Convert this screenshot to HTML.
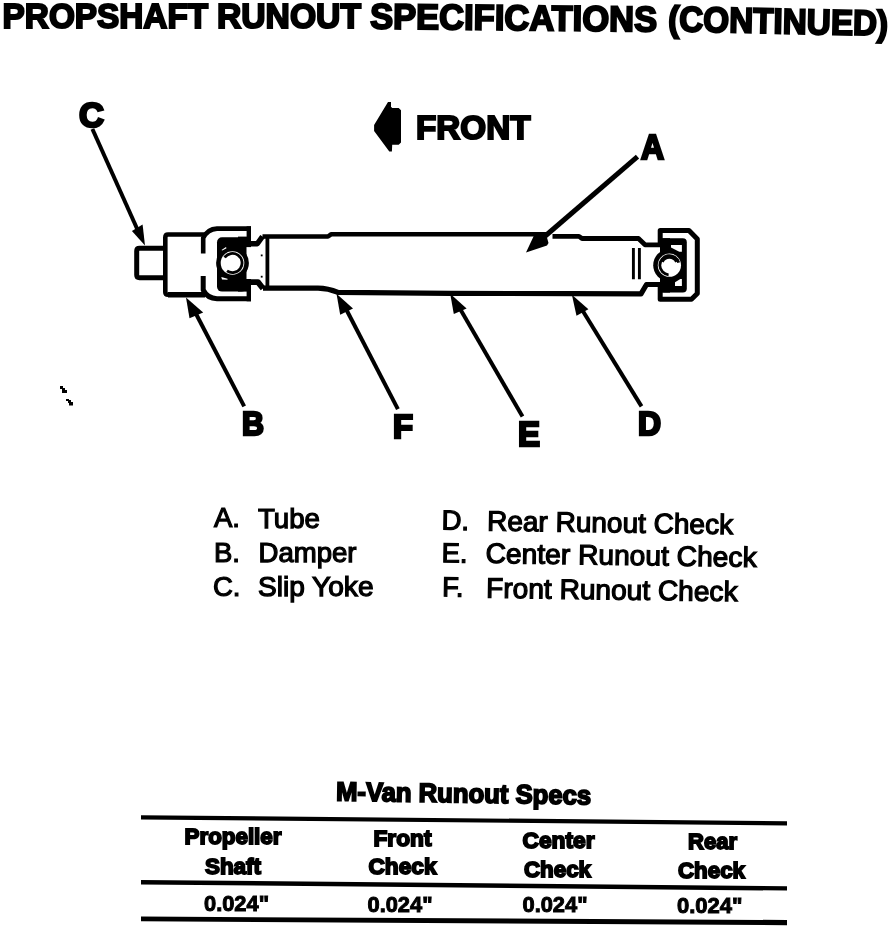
<!DOCTYPE html>
<html><head><meta charset="utf-8"><title>Propshaft Runout Specifications</title>
<style>
html,body{margin:0;padding:0;background:#fff;}
body{width:896px;height:928px;overflow:hidden;}
svg{display:block;filter:grayscale(1);}
text{font-family:"Liberation Sans",sans-serif;fill:#000;}
.t{font-weight:bold;stroke:#000;stroke-width:2.1px;}
.L{font-weight:bold;stroke:#000;stroke-width:2.6px;}
.lg{font-weight:normal;stroke:#000;stroke-width:1.25px;}
.lr{font-weight:normal;stroke:#000;stroke-width:1.2px;font-size:27.5px;}
.hd{font-weight:bold;stroke:#000;stroke-width:1.8px;}
</style></head>
<body>
<svg width="896" height="928" viewBox="0 0 896 928">
<!-- TITLE -->
<g class="t" font-size="35.6">
<text x="2.6" y="28.3" textLength="205.5" lengthAdjust="spacingAndGlyphs">PROPSHAFT</text>
<text x="217" y="28.4" textLength="144" lengthAdjust="spacingAndGlyphs">RUNOUT</text>
<text x="370" y="28.5" textLength="287" lengthAdjust="spacingAndGlyphs" transform="rotate(0.6 370 28.5)">SPECIFICATIONS</text>
<text x="668" y="31" font-size="35.5" textLength="220" lengthAdjust="spacingAndGlyphs" transform="rotate(1.2 668 31)">(CONTINUED)</text>
</g>

<!-- DIAGRAM -->
<g fill="none" stroke="#000" stroke-linejoin="round" stroke-linecap="butt">
  <!-- slip yoke stub -->
  <path d="M164,248.3 H139.5 Q136.7,248.3 136.7,251 V275 Q136.7,277.7 139.5,277.7 H164" stroke-width="5"/>
  <!-- yoke body -->
  <path d="M205,234.5 H168 Q165.3,234.5 165.3,237.5 V292 Q165.3,294.8 168,294.8 H205" stroke-width="4.6"/>
  <path d="M168,294.8 H205" stroke-width="5.6"/>
  <!-- fork outer C -->
  <path d="M251,228.6 H217 Q207.5,229 203.2,238 V253.5" stroke-width="4.6"/>
  <path d="M203.2,276 V290 Q207.5,298.5 217,298.7 H251" stroke-width="5"/>
  <path d="M248.8,226.3 V241.5" stroke-width="4.4"/>
  <path d="M248.8,287 V301.3" stroke-width="4.4"/>
  <!-- left neck -->
  <path d="M249,243.8 H257.3 L262.5,236.5" stroke-width="5.4"/>
  <path d="M240,282.1 H258 L263,288.5" stroke-width="5.8"/>
  <!-- tube -->
  <path d="M262.5,236.5 H328 L331,234.3 H546" stroke-width="4.6"/>
  <path d="M552.5,236.4 H579 L582,238.5 H638.5 L645,244.8 H660" stroke-width="4.8"/>
  <path d="M263,288.2 H318 Q328,288.4 338,292.4 L450,293.3 L570,293.7 L641,293.9 L646.5,284.5 H665" stroke-width="5.2"/>
  <path d="M267.4,236 V289.5" stroke-width="3.8"/>
  <!-- right frame (D shape) -->
  <path d="M660.2,243 V230.6 H689 L697.3,239 V293.5 L691.5,299.2 H660.2 V286" stroke-width="5"/>
  <!-- double bars right -->
  <path d="M633.4,248.1 V279.3 M639.4,248.1 V279.3" stroke-width="2.9"/>
</g>
<!-- left bearing cap -->
<g fill="#000">
  <rect x="217" y="237.3" width="29.5" height="54.3" rx="5"/>
  <rect x="238" y="236.6" width="13" height="10.5"/>
  <rect x="238" y="279" width="13" height="12.6"/>
  <circle cx="232.5" cy="263" r="16.4"/>
  <circle cx="232.5" cy="263" r="11.8" fill="#fff"/>
  <path d="M224.6,257.5 A9.6,9.6 0 1 1 227.0,270.9" fill="none" stroke="#000" stroke-width="2.8"/>
  <path d="M221.5,250 L226,247 L226.5,248.3 L222.3,250.6 Z" fill="#fff"/>
  <path d="M221.3,277 L227.5,278.7 L227.5,279.7 L222,279.4 Z" fill="#fff"/>
</g>
<!-- right bearing cap -->
<g fill="#000">
  <rect x="660" y="238.2" width="26.8" height="54.4" rx="4"/>
  <rect x="660" y="238.2" width="10" height="54.4"/>
  <circle cx="669.4" cy="265.2" r="16.2"/>
  <circle cx="669.4" cy="265.2" r="11.6" fill="#fff"/>
  <path d="M678.7,262.7 A9.6,9.6 0 1 0 668.6,274.8" fill="none" stroke="#000" stroke-width="2.8"/>
  <path d="M662.0,261.7 A8.2,8.2 0 0 1 676.8,261.7" fill="none" stroke="#000" stroke-width="3.5"/>
  <path d="M671,245 H681.9 V251.8 H679.3 L671,247.6 Z" fill="#fff"/>
  <path d="M675,282.2 L680.3,279 H681.9 V286.1 H675 Z" fill="#fff"/>
</g>
<!-- dots -->
<rect x="260.8" y="254.5" width="1.8" height="1.8" fill="#000"/>
<rect x="260.8" y="275.8" width="1.8" height="1.8" fill="#000"/>

<!-- leader lines + arrowheads -->
<g stroke="#000" stroke-width="4" stroke-linecap="butt" fill="none">
  <line x1="92.4" y1="129" x2="139" y2="233"/>
  <line x1="637.5" y1="156.6" x2="540" y2="240.5" stroke-width="5"/>
  <line x1="244.2" y1="406.4" x2="194" y2="310"/>
  <line x1="397.9" y1="409.2" x2="345" y2="307"/>
  <line x1="522.5" y1="416.5" x2="459" y2="307"/>
  <line x1="641.5" y1="406.4" x2="581" y2="308"/>
</g>
<g fill="#000">
  <polygon points="145,245.5 131.9,230.9 142.6,224.4"/>
  <polygon points="526,252.5 533.5,236.5 534,234 546,234 548.5,243 547,245.5"/>
  <polygon points="186,297.5 189.5,318.2 203.2,312.4"/>
  <polygon points="336.5,293.7 340.2,314.8 353,308.4"/>
  <polygon points="450.2,293.7 453.8,313.9 466.6,308.4"/>
  <polygon points="571.9,294.7 576.5,315.7 588.4,309.3"/>
</g>

<!-- FRONT arrow -->
<polygon points="388,102 391,102 391,106.7 392.2,108 398.7,108 401,110.3 401,142.6 398.7,144.8 392.2,144.8 391.9,151.6 389.3,151.6 374.1,131 374.1,125.1" fill="#000"/>
<text class="t" x="416" y="139.3" font-size="34" textLength="114.5" lengthAdjust="spacingAndGlyphs">FRONT</text>

<!-- letters -->
<g class="L" font-size="33">
<text x="79" y="127.3" font-size="35.5" textLength="25" lengthAdjust="spacingAndGlyphs">C</text>
<text x="641" y="159.3" font-size="34.5" textLength="23" lengthAdjust="spacingAndGlyphs">A</text>
<text x="242" y="435.4" textLength="22" lengthAdjust="spacingAndGlyphs">B</text>
<text x="393" y="438" textLength="20" lengthAdjust="spacingAndGlyphs">F</text>
<text x="518" y="445.8" font-size="34.5" textLength="22" lengthAdjust="spacingAndGlyphs">E</text>
<text x="638" y="434.8" textLength="23" lengthAdjust="spacingAndGlyphs">D</text>
</g>

<!-- speck -->
<g fill="#000">
<path d="M60,386 H63 V388 H65 V390 H67 V393 H62 V389 H60 Z"/>
<path d="M66,399 H69 V400 H71 V402 H73 V405.5 H69 V403 H68 V401 H66 Z"/>
</g>

<!-- LEGEND -->
<g class="lg" font-size="27.5">
<text x="214" y="527.4" class="lr">A.</text>
<text x="258" y="527.6" textLength="62" lengthAdjust="spacingAndGlyphs">Tube</text>
<text x="214" y="562" class="lr">B.</text>
<text x="258.5" y="562.3" textLength="98" lengthAdjust="spacingAndGlyphs">Damper</text>
<text x="213" y="595.8" class="lr">C.</text>
<text x="258" y="596" textLength="115.5" lengthAdjust="spacingAndGlyphs">Slip Yoke</text>
</g>
<g class="lg" font-size="28" transform="translate(0 -0.8) rotate(0.85 442 530)">
<text x="441.5" y="530.4" class="lr">D.</text>
<text x="487" y="530.7" textLength="246" lengthAdjust="spacingAndGlyphs">Rear Runout Check</text>
<text x="442" y="563" class="lr">E.</text>
<text x="486" y="563" textLength="271" lengthAdjust="spacingAndGlyphs">Center Runout Check</text>
<text x="443" y="597" class="lr">F.</text>
<text x="487" y="597.7" textLength="251.5" lengthAdjust="spacingAndGlyphs">Front Runout Check</text>
</g>

<!-- TABLE -->
<g class="hd" font-size="26.5" transform="rotate(0.9 336 800)">
<text x="336" y="800.5" textLength="255" lengthAdjust="spacingAndGlyphs">M-Van Runout Specs</text>
</g>
<g fill="#000">
  <polygon points="141,815.2 787,821.2 787,825.4 141,819.4"/>
  <polygon points="141,880 787,886.2 787,890.6 141,884.4"/>
  <polygon points="141,916.6 787,920 787,925.2 141,921.2"/>
</g>
<g class="hd" font-size="22.5">
<text x="184.5" y="843.9" textLength="97" lengthAdjust="spacingAndGlyphs">Propeller</text>
<text x="205" y="873.6" textLength="56" lengthAdjust="spacingAndGlyphs">Shaft</text>
<text x="373.5" y="846.2" textLength="58" lengthAdjust="spacingAndGlyphs">Front</text>
<text x="368.5" y="874.4" textLength="68" lengthAdjust="spacingAndGlyphs">Check</text>
<text x="522.5" y="847.8" textLength="72" lengthAdjust="spacingAndGlyphs">Center</text>
<text x="524" y="876.7" textLength="67" lengthAdjust="spacingAndGlyphs">Check</text>
<text x="688" y="849.4" textLength="49" lengthAdjust="spacingAndGlyphs">Rear</text>
<text x="678" y="878.2" textLength="67" lengthAdjust="spacingAndGlyphs">Check</text>
</g>
<g class="hd" font-size="22.7" style="stroke-width:1px">
<text x="204" y="910.7" textLength="65" lengthAdjust="spacingAndGlyphs">0.024"</text>
<text x="367.5" y="911.7" textLength="65" lengthAdjust="spacingAndGlyphs">0.024"</text>
<text x="522.5" y="912" textLength="65" lengthAdjust="spacingAndGlyphs">0.024"</text>
<text x="677" y="913.4" textLength="65.5" lengthAdjust="spacingAndGlyphs">0.024"</text>
</g>
</svg>
</body></html>
